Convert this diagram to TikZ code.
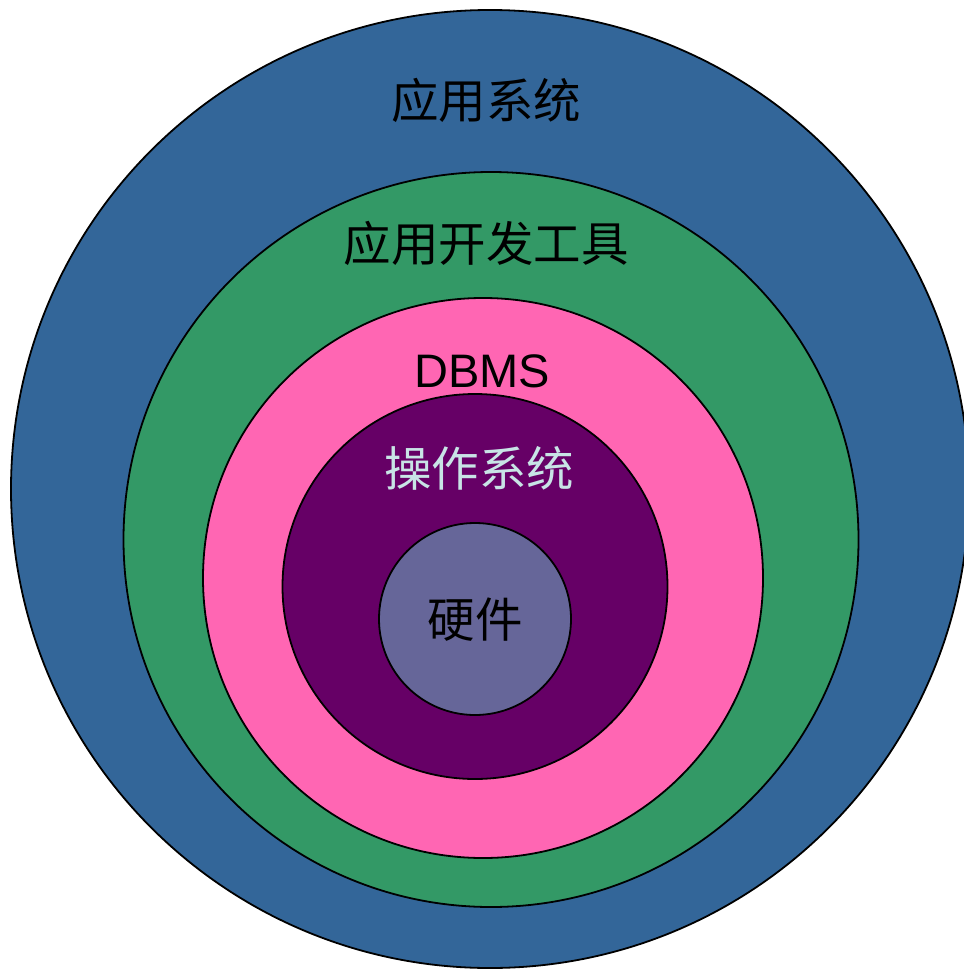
\documentclass[tikz,border=0pt]{standalone}
\usepackage{fontspec}
\setmainfont{Liberation Sans}
\newfontfamily\cjk{Noto Sans CJK SC}
\definecolor{cblue}{RGB}{51,102,153}
\definecolor{cgreen}{RGB}{51,153,102}
\definecolor{cpink}{RGB}{255,102,179}
\definecolor{cpurple}{RGB}{102,0,102}
\definecolor{cgray}{RGB}{102,102,153}
\definecolor{clight}{RGB}{200,228,230}
\begin{document}
\begin{tikzpicture}[x=1pt,y=-1pt,
  ring/.style={circle,draw=black,line width=1.8pt,inner sep=0pt},
  zh/.style={font=\cjk\fontsize{47.5}{47.5}\selectfont,inner sep=0pt},
  en/.style={font=\fontsize{47}{47}\selectfont,inner sep=0pt}]
\useasboundingbox (0,0) rectangle (963,971);
\node[ring,fill=cblue,minimum size=958] (app) at (490,489) {};
\node[ring,fill=cgreen,minimum size=735] (tool) at (491,539.5) {};
\node[ring,fill=cpink,minimum size=560] (dbms) at (483,578) {};
\node[ring,fill=cpurple,minimum size=385] (os) at (475,586.5) {};
\node[ring,fill=cgray,minimum size=192] (hw) at (475,619) {};
\node[zh] (tapp) at (486,100) {应用系统};
\node[zh] (ttool) at (486,243) {应用开发工具};
\node[en] (tdbms) at (482,371) {DBMS};
\node[zh,text=clight] (tos) at (479,468) {操作系统};
\node[zh] (thw) at (475,620) {硬件};
\end{tikzpicture}
\end{document}
